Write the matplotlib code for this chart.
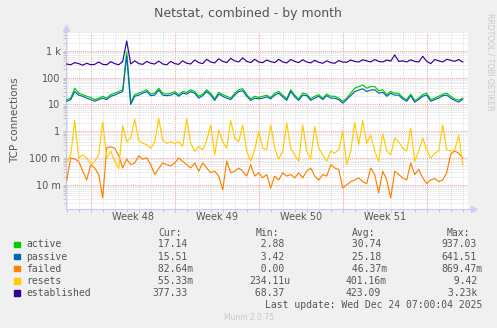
import numpy as np
import matplotlib
matplotlib.use("Agg")
import matplotlib.pyplot as plt
from matplotlib.patches import Rectangle
from matplotlib.ticker import LogLocator, FixedLocator, NullFormatter

W, H = 497, 328

# sample times, hours relative to Monday Nov 24 00:00 (8 h steps)
hours = np.arange(100) * 8 - 48

established = [320, 300, 360, 330, 290, 340, 300, 310, 380, 310, 300, 390,
               330, 300, 400, 2300, 320, 420, 330, 310, 400, 340, 320, 410,
               320, 300, 400, 330, 310, 420, 340, 320, 450, 360, 330, 480,
               380, 350, 500, 400, 360, 520, 420, 380, 540, 400, 360, 480,
               380, 360, 450, 390, 360, 480, 380, 350, 470, 400, 360, 460,
               380, 350, 440, 370, 340, 420, 360, 340, 430, 380, 370, 450,
               400, 380, 460, 420, 380, 470, 400, 380, 450, 410, 700, 400,
               420, 380, 460, 400, 380, 620, 400, 330, 470, 420, 380, 480,
               440, 400, 470, 380]
active = [15, 17, 40, 26, 23, 20, 18, 15, 17, 20, 17, 23, 26, 30, 35, 900,
          12, 23, 26, 30, 35, 24, 26, 40, 26, 24, 26, 30, 23, 30, 28, 35, 30,
          20, 24, 35, 26, 16, 28, 23, 20, 17, 26, 35, 38, 23, 16, 20, 18, 20,
          22, 18, 26, 30, 22, 16, 35, 22, 16, 26, 24, 16, 20, 23, 17, 24, 20,
          20, 17, 13, 17, 26, 40, 46, 53, 40, 46, 46, 32, 35, 23, 30, 26, 26,
          18, 15, 24, 14, 17, 23, 26, 15, 17, 20, 24, 26, 20, 16, 14, 17]
passive = [13, 15, 30, 22, 20, 17, 15, 13, 15, 17, 15, 20, 22, 26, 30, 640,
           10, 20, 22, 26, 30, 21, 22, 34, 22, 21, 22, 26, 20, 26, 24, 30, 26,
           17, 21, 30, 22, 14, 24, 20, 17, 15, 22, 30, 32, 20, 14, 17, 16, 17,
           19, 16, 22, 26, 19, 14, 30, 19, 14, 22, 21, 14, 17, 20, 15, 21, 17,
           17, 15, 11, 15, 21, 30, 34, 38, 30, 34, 35, 26, 28, 20, 26, 22, 22,
           16, 13, 21, 12, 15, 20, 22, 13, 15, 17, 21, 22, 17, 14, 12, 15.5]
resets = [0.075, 0.13, 2.5, 0.1, 0.13, 0.1, 0.056, 0.075, 0.13, 2.2, 0.1,
          0.18, 0.075, 0.04, 1.6, 0.4, 0.55, 2.8, 0.45, 0.35, 0.31, 0.23, 0.4,
          3.0, 0.45, 0.35, 0.4, 0.35, 0.4, 0.27, 2.8, 0.35, 0.18,
          0.26, 0.2, 0.45, 1.7, 0.13, 1.1, 0.4, 0.23, 2.5, 0.55, 0.4, 1.7,
          0.18, 0.075, 0.2, 1.0, 0.23, 0.2, 1.7, 0.23, 0.09, 0.18, 2.0, 0.23,
          0.13, 0.075, 1.7, 0.18, 0.09, 1.5, 0.23, 0.13, 0.075, 0.18,
          0.15, 0.2, 1.0, 0.056, 0.18, 2.0, 0.31, 2.5, 0.35, 0.7, 0.18, 0.075,
          0.8, 0.18, 0.13, 0.55, 0.4, 0.23, 0.18, 1.3, 0.075, 0.18, 0.55, 0.2,
          0.1, 0.15, 0.18, 1.7, 0.2, 0.18, 0.2, 0.7, 0.056]
failed = [0.015, 0.1, 0.09, 0.075, 0.032, 0.015, 0.056, 0.042, 0.024, 0.0032,
          0.24, 0.26, 0.23, 0.12, 0.042, 0.09, 0.056, 0.065, 0.12, 0.09, 0.1,
          0.056, 0.024, 0.04, 0.065, 0.056, 0.05, 0.065, 0.1, 0.075, 0.056,
          0.042, 0.065,
          0.032, 0.065, 0.042, 0.028, 0.032, 0.021, 0.0065, 0.075, 0.028,
          0.032, 0.042, 0.032, 0.021, 0.056, 0.021, 0.028, 0.018, 0.024,
          0.0075, 0.021, 0.015, 0.028, 0.021, 0.024, 0.018, 0.028, 0.018,
          0.032, 0.042, 0.021, 0.015, 0.024, 0.021, 0.056,
          0.042, 0.037, 0.0075, 0.01, 0.013, 0.015, 0.018, 0.013, 0.011, 0.042,
          0.024, 0.005, 0.032, 0.015, 0.0032, 0.032, 0.024, 0.018, 0.015,
          0.065, 0.024, 0.037, 0.018, 0.011, 0.015, 0.017, 0.013, 0.015, 0.028,
          0.14, 0.18, 0.15, 0.1]

names = ["active", "passive", "failed", "resets", "established"]
colors = ["#00cc00", "#0066b3", "#ff8000", "#ffcc00", "#330099"]
series = [active, passive, failed, resets, established]
cur = [" 17.14", " 15.51", " 82.64m", " 55.33m", "377.33"]
mins = ["  2.88", "  3.42", "  0.00", "234.11u", " 68.37"]
avgs = [" 30.74", " 25.18", " 46.37m", "401.16m", "423.09"]
maxs = ["937.03", "641.51", "869.47m", "  9.42", " 3.23k"]
week_labels = ["Week 48", "Week 49", "Week 50", "Week 51"]
week_starts = [0, 7, 14, 21, 28]  # days from Nov 24

txt = "#555555"
mono = "DejaVu Sans Mono"

fig = plt.figure(figsize=(W / 100, H / 100), dpi=100, facecolor="#f0f0f0")
x0, x1, ytop, ybot = 66, 468, 32, 209
ax = fig.add_axes([x0 / W, 1 - ybot / H, (x1 - x0) / W, (ybot - ytop) / H])
ax.set_facecolor("white")

days = hours / 24
for s, c in zip(series, colors):
    ax.plot(days, s, color=c, lw=0.85, zorder=3)

ax.set_yscale("log")
ax.set_ylim(1.24e-3, 5.0e3)
ax.set_xlim(-2.06, 31.44)

ax.yaxis.set_major_locator(FixedLocator([0.01, 0.1, 1, 10, 100, 1000]))
ax.set_yticklabels(["10 m", "100 m", "1", "10", "100", "1 k"])
ax.yaxis.set_minor_locator(LogLocator(base=10, subs=np.arange(2, 10), numticks=20))
ax.yaxis.set_minor_formatter(NullFormatter())
ax.xaxis.set_major_locator(FixedLocator(week_starts))
ax.xaxis.set_minor_locator(FixedLocator(np.arange(-2, 32)))
ax.set_xticklabels([])

ax.grid(which="minor", color="#dadada", ls=(0, (1, 1)), lw=0.6, zorder=1)
ax.grid(which="major", color="#f4a8a8", ls=(0, (1, 1)), lw=0.75, zorder=2)
ax.tick_params(which="both", length=2, width=0.6, color="#bbbbbb",
               labelsize=7, labelcolor=txt, pad=2)
ax.tick_params(axis="x", which="major", color="#f4a0a0")

for sp in ["top", "right"]:
    ax.spines[sp].set_visible(False)
for sp in ["left", "bottom"]:
    ax.spines[sp].set_color("#c8c8f0")
    ax.spines[sp].set_linewidth(0.8)
ax.plot([1.0, 1.012], [0, 0], color="#c8c8f0", lw=0.8, transform=ax.transAxes, clip_on=False)
ax.plot([1.014], [0], marker=">", ms=4, color="#c8d0f8", transform=ax.transAxes, clip_on=False)
ax.plot([0, 0], [1.0, 1.015], color="#c8c8f0", lw=0.8, transform=ax.transAxes, clip_on=False)
ax.plot([0], [1.02], marker="^", ms=4, color="#c8d0f8", transform=ax.transAxes, clip_on=False)

for lbl, st in zip(week_labels, week_starts):
    ax.text(st + 3.5, -0.045, lbl, transform=ax.get_xaxis_transform(),
            ha="center", va="center", fontsize=7, color=txt)

ax.set_ylabel("TCP connections", fontsize=7.5, color=txt, labelpad=7)


def put(x, y, s, **kw):
    fig.text(x / W, 1 - y / H, s, va="center", **kw)


put(248, 14, "Netstat, combined - by month", ha="center", fontsize=9, color=txt)
put(490, 62, "RRDTOOL / TOBI OETIKER", ha="center", fontsize=5.5,
    color="#c8c8c8", rotation=270)

put(158.3, 233, "Cur:", family=mono, fontsize=7, color=txt)
put(255.2, 233, "Min:", family=mono, fontsize=7, color=txt)
put(351.7, 233, "Avg:", family=mono, fontsize=7, color=txt)
put(446.7, 233, "Max:", family=mono, fontsize=7, color=txt)

row_y = [244.3, 256.5, 268.6, 280.7, 292.7]
for i in range(5):
    y = row_y[i]
    fig.add_artist(Rectangle(((14) / W, 1 - (y + 2.8) / H), 5.5 / W, 5.5 / H,
                             transform=fig.transFigure, color=colors[i]))
    put(26, y, names[i], family=mono, fontsize=7, color=txt)
    put(152.3, y, cur[i], family=mono, fontsize=7, color=txt)
    put(249.3, y, mins[i], family=mono, fontsize=7, color=txt)
    put(345.7, y, avgs[i], family=mono, fontsize=7, color=txt)
    put(441.7, y, maxs[i], family=mono, fontsize=7, color=txt)

put(482.5, 304.7, "Last update: Wed Dec 24 07:00:04 2025", ha="right",
    family=mono, fontsize=7, color=txt)
put(248.7, 317, "Munin 2.0.75", ha="center", fontsize=5.5, color="#c8c8c8")

fig.savefig("out.png", dpi=100, facecolor=fig.get_facecolor())
